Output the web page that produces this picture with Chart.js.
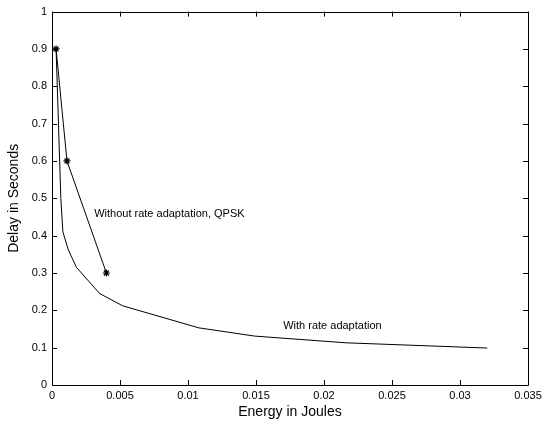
<!DOCTYPE html>
<html>
<head>
<meta charset="utf-8">
<script src="https://cdn.jsdelivr.net/npm/chart.js@4/dist/chart.umd.min.js"></script>
<style>
html,body{margin:0;padding:0;background:#fff;}
#wrap{width:552px;height:424px;}
</style>
</head>
<body>
<div id="wrap"><canvas id="c" width="552" height="424"></canvas></div>
<script>
// Data
const withRateEnergy = [0.0003, 0.00045, 0.00065, 0.0008, 0.0012, 0.0018, 0.0035, 0.0052, 0.0108, 0.0149, 0.0216, 0.032];
const withRateDelay  = [0.9,    0.73,    0.5,    0.41,   0.362,  0.315,  0.245,  0.212,  0.153,  0.131,  0.113,  0.099];
const noRateEnergy = [0.0003, 0.0011, 0.004];
const noRateDelay  = [0.9, 0.6, 0.3];
const xTicks = [0, 0.005, 0.01, 0.015, 0.02, 0.025, 0.03, 0.035];
const yTicks = [0, 0.1, 0.2, 0.3, 0.4, 0.5, 0.6, 0.7, 0.8, 0.9, 1];
const labels = [
  {text: 'Without rate adaptation, QPSK', x: 0.0031, y: 0.459},
  {text: 'With rate adaptation', x: 0.0170, y: 0.157}
];

const toPts = (xs, ys) => xs.map((x, i) => ({x: x, y: ys[i]}));
const FONT = '"Liberation Sans", Arial, Helvetica, sans-serif';

const framePlugin = {
  id: 'frame',
  afterDraw(chart) {
    const ctx = chart.ctx, a = chart.chartArea;
    const xs = chart.scales.x, ys = chart.scales.y;
    ctx.save();
    ctx.strokeStyle = '#000';
    ctx.lineWidth = 1;
    ctx.beginPath();
    ctx.rect(Math.round(a.left) + 0.5, Math.round(a.top) + 0.5, Math.round(a.right - a.left), Math.round(a.bottom - a.top));
    ctx.stroke();
    const L = 5;
    ctx.beginPath();
    xTicks.forEach(v => {
      const px = Math.round(xs.getPixelForValue(v)) + 0.5;
      ctx.moveTo(px, a.bottom); ctx.lineTo(px, a.bottom - L);
      ctx.moveTo(px, a.top); ctx.lineTo(px, a.top + L);
    });
    yTicks.forEach(v => {
      const py = Math.round(ys.getPixelForValue(v)) + 0.5;
      ctx.moveTo(a.left, py); ctx.lineTo(a.left + L, py);
      ctx.moveTo(a.right, py); ctx.lineTo(a.right - L, py);
    });
    ctx.stroke();
    ctx.fillStyle = '#000';
    ctx.font = '11px ' + FONT;
    ctx.textBaseline = 'middle';
    ctx.textAlign = 'left';
    labels.forEach(l => {
      ctx.fillText(l.text, xs.getPixelForValue(l.x), ys.getPixelForValue(l.y));
    });
    ctx.restore();
  }
};

new Chart(document.getElementById('c'), {
  type: 'scatter',
  data: {
    datasets: [
      {
        data: toPts(withRateEnergy, withRateDelay),
        showLine: true, borderColor: '#000', borderWidth: 1,
        pointRadius: 0, fill: false, tension: 0
      },
      {
        data: toPts(noRateEnergy, noRateDelay),
        showLine: true, borderColor: '#000', borderWidth: 1,
        pointStyle: 'star', pointRadius: 3.5, pointBorderColor: '#000',
        pointBorderWidth: 1.2, pointBackgroundColor: '#000', fill: false, tension: 0
      }
    ]
  },
  options: {
    responsive: false,
    animation: false,
    layout: {padding: {top: 10, right: 24, left: 0, bottom: 0}},
    plugins: {legend: {display: false}, tooltip: {enabled: false}},
    scales: {
      x: {
        type: 'linear', min: 0, max: 0.035,
        afterBuildTicks: s => { s.ticks = xTicks.map(v => ({value: v})); },
        afterFit: s => { s.height = 39; },
        grid: {display: false, drawTicks: false},
        border: {display: false},
        ticks: {color: '#000', font: {size: 11, family: FONT}, padding: 4, maxRotation: 0,
          callback: v => String(+v.toFixed(4))},
        title: {display: true, text: 'Energy in Joules', color: '#000', font: {size: 14, family: FONT}, padding: {top: 0, bottom: 3}}
      },
      y: {
        type: 'linear', min: 0, max: 1,
        afterBuildTicks: s => { s.ticks = yTicks.map(v => ({value: v})); },
        afterFit: s => { s.width = 52; },
        grid: {display: false, drawTicks: false},
        border: {display: false},
        ticks: {color: '#000', font: {size: 11, family: FONT}, padding: 5,
          callback: v => String(+v.toFixed(2))},
        title: {display: true, text: 'Delay in Seconds', color: '#000', font: {size: 14, family: FONT}, padding: {top: 6, bottom: 0}}
      }
    }
  },
  plugins: [framePlugin]
});
</script>
</body>
</html>
